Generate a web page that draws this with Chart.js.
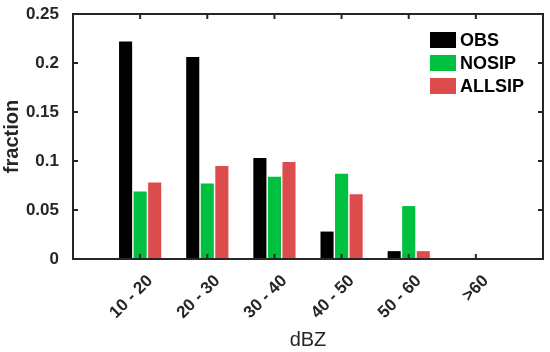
<!DOCTYPE html>
<html>
<head>
<meta charset="utf-8">
<script src="https://cdn.jsdelivr.net/npm/chart.js@4"></script>
<style>
  html, body { margin: 0; padding: 0; background: #ffffff; }
  #wrap { width: 550px; height: 352px; }
</style>
</head>
<body>
<div id="wrap"><canvas id="dbzChart"></canvas></div>
<script>
// dBZ bins and fraction per run
const categories = ["10 - 20", "20 - 30", "30 - 40", "40 - 50", "50 - 60", ">60"];
const obsValues = [0.222, 0.206, 0.103, 0.028, 0.008, 0];
const nosipValues = [0.069, 0.077, 0.084, 0.087, 0.054, 0];
const allsipValues = [0.078, 0.095, 0.099, 0.066, 0.008, 0];
const yTicks = [0, 0.05, 0.1, 0.15, 0.2, 0.25];

const axisColor = "#262626";
const fontFamily = "'Liberation Sans', Arial, sans-serif";

// empty slot on each side so the bins sit like the matlab plot
const pad = (arr) => [null, ...arr, null];

// box round the plot with inward ticks on all four sides
const boxPlugin = {
    id: "box",
    afterDatasetsDraw(chart) {
        const { ctx, chartArea: a, scales } = chart;
        ctx.save();
        ctx.strokeStyle = axisColor;
        ctx.lineWidth = 2;
        ctx.strokeRect(a.left, a.top, a.right - a.left, a.bottom - a.top);
        const len = 5;
        ctx.beginPath();
        scales.y.ticks.forEach((t) => {
            const y = scales.y.getPixelForValue(t.value);
            ctx.moveTo(a.left, y); ctx.lineTo(a.left + len, y);
            ctx.moveTo(a.right, y); ctx.lineTo(a.right - len, y);
        });
        scales.x.ticks.forEach((t, i) => {
            if (!chart.data.labels[i]) return;
            const x = scales.x.getPixelForTick(i);
            ctx.moveTo(x, a.bottom); ctx.lineTo(x, a.bottom - len);
            ctx.moveTo(x, a.top); ctx.lineTo(x, a.top + len);
        });
        ctx.stroke();
        ctx.restore();
    },
};

// legend drawn inside the top right corner
const insideLegend = {
    id: "insideLegend",
    afterDraw(chart) {
        const { ctx } = chart;
        ctx.save();
        ctx.font = "bold 18px " + fontFamily;
        ctx.textBaseline = "middle";
        chart.data.datasets.forEach((ds, i) => {
            const y = 40 + i * 23;
            ctx.fillStyle = ds.backgroundColor;
            ctx.fillRect(430, y - 8, 26, 16);
            ctx.fillStyle = "#000000";
            ctx.fillText(ds.label, 460, y + 1);
        });
        ctx.restore();
    },
};

const tickFont = { family: fontFamily, size: 17, weight: "bold" };

new Chart(document.getElementById("dbzChart").getContext("2d"), {
    type: "bar",
    data: {
        labels: ["", ...categories, ""],
        datasets: [
            { label: "OBS", data: pad(obsValues), backgroundColor: "#000000" },
            { label: "NOSIP", data: pad(nosipValues), backgroundColor: "#00c040" },
            { label: "ALLSIP", data: pad(allsipValues), backgroundColor: "#dd4c4c" },
        ],
    },
    options: {
        responsive: true,
        maintainAspectRatio: false,
        animation: false,
        datasets: {
            bar: {
                categoryPercentage: 0.65,
                barPercentage: 0.9,
            },
        },
        layout: {
            padding: { top: 14, right: 7, left: 0, bottom: 0 },
        },
        plugins: {
            legend: { display: false },
            tooltip: { enabled: false },
        },
        scales: {
            x: {
                offset: false,
                grid: { display: false },
                border: { display: false },
                ticks: {
                    autoSkip: false,
                    minRotation: 45,
                    maxRotation: 45,
                    padding: 4,
                    labelOffset: 10,
                    color: axisColor,
                    font: tickFont,
                },
                title: {
                    display: true,
                    text: "dBZ",
                    color: axisColor,
                    font: { family: fontFamily, size: 20 },
                    padding: { top: 0, bottom: 0 },
                },
                afterFit(scale) {
                    scale.height = 93;
                    scale.paddingLeft = 0;
                    scale.paddingRight = 0;
                },
            },
            y: {
                min: 0,
                max: 0.25,
                grid: { display: false },
                border: { display: false },
                afterBuildTicks(scale) {
                    scale.ticks = yTicks.map((v) => ({ value: v }));
                },
                ticks: {
                    padding: 6,
                    color: axisColor,
                    font: tickFont,
                    callback: (v) => String(Number(v.toFixed(2))),
                },
                title: {
                    display: true,
                    text: "fraction",
                    color: axisColor,
                    font: { family: fontFamily, size: 20, weight: "bold" },
                    padding: { top: 0, bottom: 2 },
                },
                afterFit(scale) {
                    scale.width = 73;
                    scale.paddingTop = 0;
                    scale.paddingBottom = 0;
                },
            },
        },
    },
    plugins: [boxPlugin, insideLegend],
});
</script>
</body>
</html>
